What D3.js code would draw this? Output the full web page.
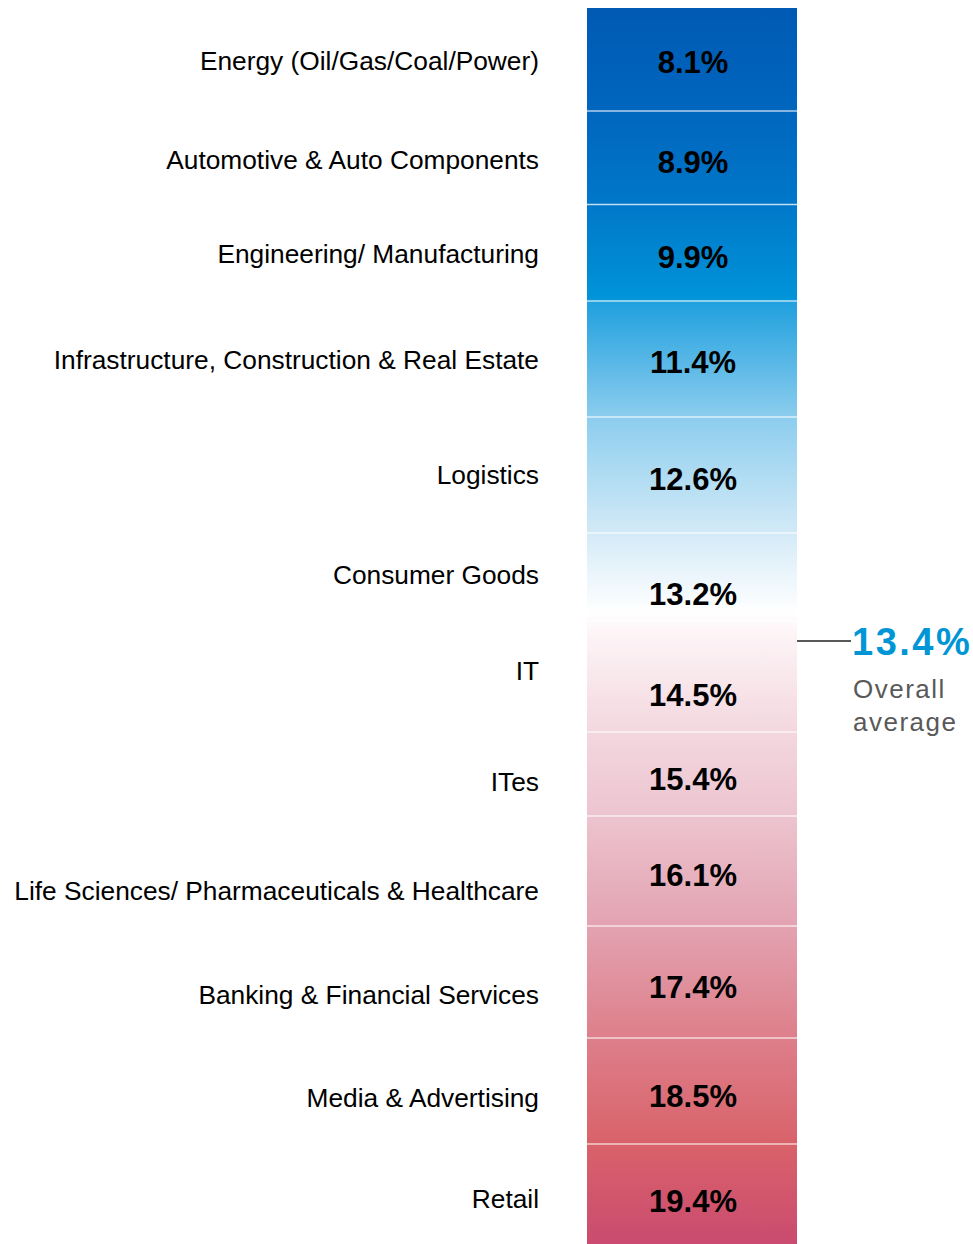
<!DOCTYPE html>
<html>
<head>
<meta charset="utf-8">
<script src="https://cdn.jsdelivr.net/npm/d3@7"></script>
<style>
  body { margin: 0; background: #fff; }
  svg text { font-family: "Liberation Sans", Arial, sans-serif; }
</style>
</head>
<body>
<div class="chart"></div>
<script>
// Sector averages vs overall average

// data
var sectors = [
  "Energy (Oil/Gas/Coal/Power)",
  "Automotive & Auto Components",
  "Engineering/ Manufacturing",
  "Infrastructure, Construction & Real Estate",
  "Logistics",
  "Consumer Goods",
  "IT",
  "ITes",
  "Life Sciences/ Pharmaceuticals & Healthcare",
  "Banking & Financial Services",
  "Media & Advertising",
  "Retail"
];
var values = [8.1, 8.9, 9.9, 11.4, 12.6, 13.2, 14.5, 15.4, 16.1, 17.4, 18.5, 19.4];
var overallAverage = 13.4;
var averageLabel = ["Overall", "average"];

// layout
var svgWidth = 973;
var svgHeight = 1244;
var col = { left: 587, right: 797, top: 8, bottom: 1244 };
var labelRight = 539;
// row edges of the column (rows are not all the same height)
var rowEdges = [8, 111, 204.5, 301, 417, 533, 621, 732, 816, 926, 1038, 1144, 1244];
// small vertical nudges of the labels from the row centre
var labelNudge = [1, 1.5, 1, 1, 0, -2, -6, 8, 20, 12.5, 6.5, 5];
var valueNudge = [2, 4, 4, 2.5, 3.5, 17, 18, 4.5, 3.5, 4.5, 4.5, 6.5];

var svg = d3.select(".chart")
  .append("svg")
  .attr("width", svgWidth)
  .attr("height", svgHeight);

// row index -> y (piecewise)
var rowScale = d3.scaleLinear()
  .domain(d3.range(rowEdges.length))
  .range(rowEdges);

function rowMid(i) {
  return (rowScale(i) + rowScale(i + 1)) / 2;
}

// value -> y, each value sits at the bottom edge of its row
var valueScale = d3.scaleLinear()
  .domain(values)
  .range(values.map((d, i) => rowScale(i + 1)));

// gradient down the column
var defs = svg.append("defs");
var grad = defs.append("linearGradient")
  .attr("id", "colGrad")
  .attr("gradientUnits", "userSpaceOnUse")
  .attr("x1", 0).attr("x2", 0)
  .attr("y1", col.top).attr("y2", col.bottom);

var stops = [
  [8, "#005ab4"], [111, "#0066be"], [205, "#0078c9"], [299, "#0094d9"],
  [302, "#20a0de"], [417, "#8ccdee"], [533, "#d3eaf7"], [612, "#ffffff"],
  [632, "#fdf5f7"], [732, "#f3d7df"], [816, "#ecc4cf"], [926, "#e3a2b1"],
  [1038, "#dd7f8a"], [1144, "#d9626a"], [1244, "#ca4b6f"]
];
grad.selectAll("stop")
  .data(stops)
  .enter()
  .append("stop")
  .attr("offset", d => (d[0] - col.top) / (col.bottom - col.top))
  .attr("stop-color", d => d[1]);

// row cells
svg.append("g")
  .selectAll("rect")
  .data(values)
  .enter()
  .append("rect")
  .attr("x", col.left)
  .attr("y", (d, i) => rowScale(i))
  .attr("width", col.right - col.left)
  .attr("height", (d, i) => rowScale(i + 1) - rowScale(i))
  .attr("fill", "url(#colGrad)");

// separators
svg.append("g")
  .selectAll("line")
  .data(values.slice(1))
  .enter()
  .append("line")
  .attr("x1", col.left)
  .attr("x2", col.right)
  .attr("y1", (d, i) => rowScale(i + 1))
  .attr("y2", (d, i) => rowScale(i + 1))
  .attr("stroke", "rgba(255,255,255,0.7)")
  .attr("stroke-width", 1.5);

// value labels
svg.append("g")
  .selectAll("text")
  .data(values)
  .enter()
  .append("text")
  .attr("x", (col.left + col.right) / 2 + 1)
  .attr("y", (d, i) => rowMid(i) + valueNudge[i])
  .attr("dy", "0.36em")
  .attr("text-anchor", "middle")
  .attr("font-size", "31px")
  .attr("font-weight", "bold")
  .attr("fill", "#000")
  .text(d => d.toFixed(1) + "%");

// sector labels
svg.append("g")
  .selectAll("text")
  .data(sectors)
  .enter()
  .append("text")
  .attr("x", labelRight)
  .attr("y", (d, i) => rowMid(i) + labelNudge[i])
  .attr("dy", "0.36em")
  .attr("text-anchor", "end")
  .attr("font-size", "26.3px")
  .attr("fill", "#000")
  .text(d => d);

// overall average marker
var avgY = valueScale(overallAverage) + 3;

svg.append("line")
  .attr("x1", col.right)
  .attr("x2", col.right + 54)
  .attr("y1", avgY)
  .attr("y2", avgY)
  .attr("stroke", "#595959")
  .attr("stroke-width", 2);

svg.append("text")
  .attr("x", col.right + 55)
  .attr("y", avgY)
  .attr("dy", "0.36em")
  .attr("font-size", "38px")
  .attr("font-weight", "bold")
  .attr("letter-spacing", "2.5px")
  .attr("fill", "#0096d6")
  .text(overallAverage.toFixed(1) + "%");

svg.append("g")
  .selectAll("text")
  .data(averageLabel)
  .enter()
  .append("text")
  .attr("x", col.right + 56)
  .attr("y", (d, i) => avgY + 57 + i * 33)
  .attr("font-size", "26px")
  .attr("letter-spacing", "1.5px")
  .attr("fill", "#595959")
  .text(d => d);
</script>
</body>
</html>
